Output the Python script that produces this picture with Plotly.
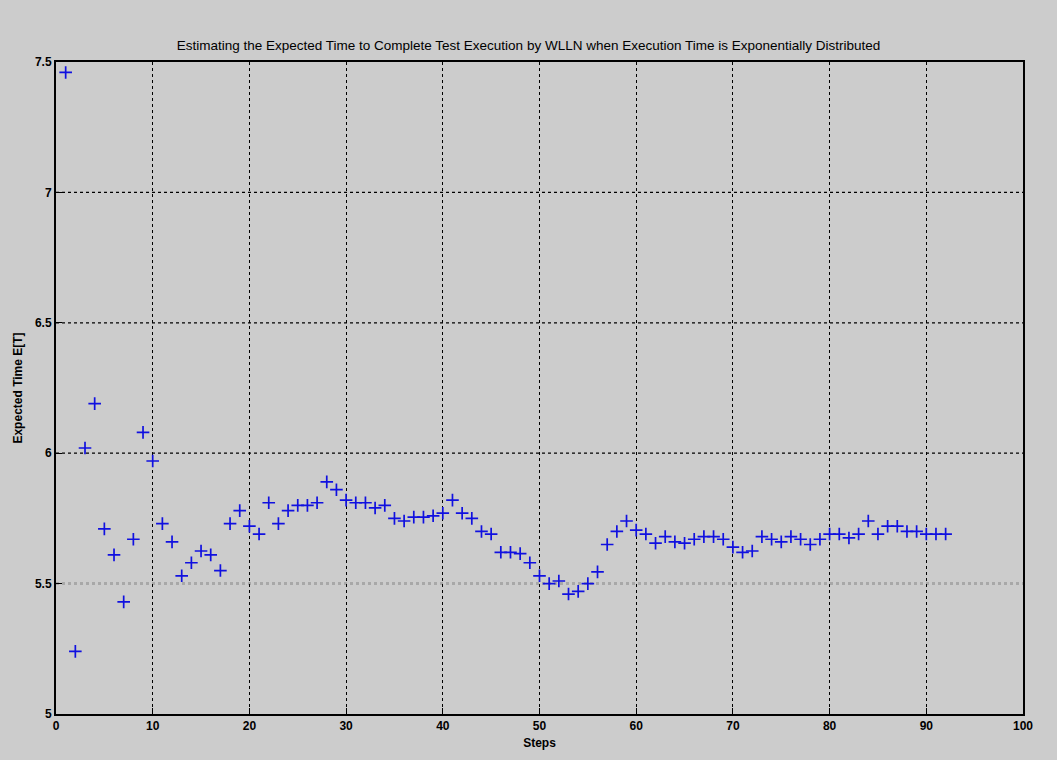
import plotly.graph_objects as go

# Running estimate of the expected completion time, one value per step
steps = list(range(1, 93))
expected_time = [
    7.46, 5.24, 6.02, 6.19, 5.71, 5.61, 5.43, 5.67, 6.08, 5.97,
    5.73, 5.66, 5.53, 5.58, 5.625, 5.61, 5.55, 5.73, 5.78, 5.72,
    5.69, 5.81, 5.73, 5.78, 5.80, 5.80, 5.81, 5.89, 5.86, 5.82,
    5.81, 5.81, 5.79, 5.80, 5.75, 5.74, 5.755, 5.755, 5.76, 5.77,
    5.82, 5.77, 5.75, 5.70, 5.69, 5.62, 5.62, 5.615, 5.58, 5.53,
    5.50, 5.51, 5.46, 5.47, 5.50, 5.545, 5.65, 5.70, 5.74, 5.705,
    5.69, 5.655, 5.68, 5.66, 5.655, 5.67, 5.68, 5.68, 5.67, 5.64,
    5.62, 5.625, 5.68, 5.67, 5.66, 5.68, 5.67, 5.65, 5.67, 5.69,
    5.69, 5.675, 5.69, 5.74, 5.69, 5.72, 5.72, 5.70, 5.70, 5.69,
    5.69, 5.69,
]

x_ticks = [0, 10, 20, 30, 40, 50, 60, 70, 80, 90, 100]
y_ticks = [5, 5.5, 6, 6.5, 7, 7.5]
y_grid = [6, 6.5, 7]
ref_level = 5.5

FONT = "Liberation Sans Narrow, Arial Narrow, Liberation Sans, Arial, sans-serif"
BG = "#cccccc"

fig = go.Figure()
fig.add_trace(go.Scatter(
    x=steps, y=expected_time, mode="markers",
    marker=dict(symbol="cross-thin", size=9, color="#0000ff",
                line=dict(width=1.7, color="#1010e0")),
    showlegend=False, cliponaxis=False,
))

shapes = []
for g in y_grid:
    shapes.append(dict(type="line", xref="paper", x0=0, x1=1, yref="y", y0=g, y1=g,
                       line=dict(color="black", width=1.3, dash="3px,3px"), layer="below"))
shapes.append(dict(type="line", xref="paper", x0=0, x1=1, yref="y", y0=ref_level, y1=ref_level,
                   line=dict(color="#a8a8a8", width=3, dash="3px,3px"), layer="below"))

fig.update_layout(
    width=1057, height=760,
    paper_bgcolor=BG, plot_bgcolor=BG,
    margin=dict(l=56, r=34, t=62, b=46),
    title=dict(text="Estimating the Expected Time to Complete Test Execution by WLLN when Execution Time is Exponentially Distributed",
               x=0.5, xanchor="center", y=0.94, yanchor="middle",
               font=dict(family=FONT, size=13.5, color="black")),
    shapes=shapes,
    xaxis=dict(range=[0, 100], tickvals=x_ticks, ticks="inside", ticklen=6, tickwidth=1.3,
               tickcolor="black", showline=True, linecolor="black", linewidth=2, mirror=True,
               showgrid=True, gridcolor="black", gridwidth=1.3, griddash="3px,3px",
               zeroline=False, tickfont=dict(family=FONT, size=12, color="black", weight="bold"),
               title=dict(text="<b>Steps</b>", font=dict(family=FONT, size=12, color="black"), standoff=6)),
    yaxis=dict(range=[5, 7.5], tickvals=y_ticks, ticktext=["5", "5.5", "6", "6.5", "7", "7.5"],
               ticks="inside", ticklen=6, tickwidth=1.3, tickcolor="black",
               showline=True, linecolor="black", linewidth=2, mirror=True,
               showgrid=False, zeroline=False,
               tickfont=dict(family=FONT, size=12, color="black", weight="bold"),
               title=dict(text="<b>Expected Time E[T]</b>", font=dict(family=FONT, size=12, color="black"), standoff=10)),
)

fig.write_html("out.html")
